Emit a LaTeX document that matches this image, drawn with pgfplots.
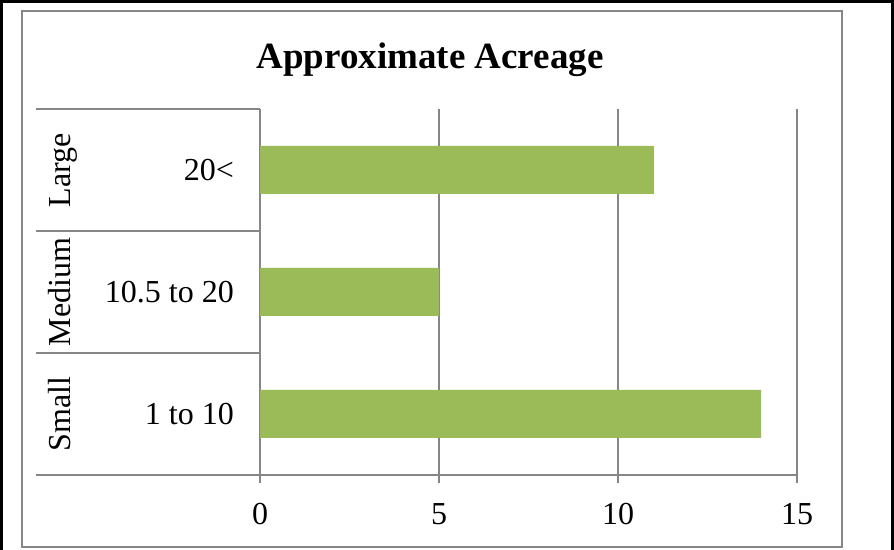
\documentclass[border=0pt]{standalone}
\usepackage{fontspec}
\setmainfont{Liberation Serif}
\usepackage{pgfplots}
\pgfplotsset{compat=1.18}
\definecolor{barc}{RGB}{155,187,89}
\definecolor{gridc}{RGB}{134,134,134}
\begin{document}
\begin{tikzpicture}[x=1bp,y=1bp]
\useasboundingbox (0,0) rectangle (894,550);
\draw[line width=3bp] (1.5,0) -- (1.5,548.5) -- (892.5,548.5) -- (892.5,0);
\draw[gridc, line width=1.5bp] (22,3) rectangle (842,539);
\node[anchor=base, font=\fontsize{37bp}{44bp}\selectfont\bfseries] at (430,481) {Approximate Acreage};
\begin{axis}[
  at={(260bp,75bp)}, anchor=south west, scale only axis,
  width=537bp, height=366bp,
  xmin=0, xmax=15, ymin=-0.5, ymax=2.5,
  xbar, bar width=48bp,
  axis lines*=left, axis line style={-, draw=gridc, line width=1.5bp},
  xmajorgrids, grid style={draw=gridc, line width=1.5bp},
  xtick={0,5,10,15}, ytick={0,1,2}, yticklabels={1 to 10, 10.5 to 20, 20<},
  tick label style={font=\fontsize{32bp}{38bp}\selectfont},
  /pgf/number format/assume math mode=true,
  xtick align=outside, major tick length=8bp,
  xtick style={draw=gridc, line width=1.5bp},
  ytick style={draw=none},
  xticklabel style={anchor=north, inner sep=0pt, yshift=-20bp},
  yticklabel style={anchor=east, inner sep=0pt, xshift=-18bp},
]
\addplot[fill=barc, draw=none] coordinates {(14,0) (5,1) (11,2)};
\end{axis}
\foreach \yy in {75,197,319,441} {\draw[gridc, line width=1.5bp] (36,\yy) -- (260,\yy);}
\begin{scope}[every node/.style={rotate=90, anchor=base, font=\fontsize{32bp}{38bp}\selectfont}]
\node at (70,136) {Small};
\node at (70,258) {Medium};
\node at (70,380) {Large};
\end{scope}
\end{tikzpicture}
\end{document}
